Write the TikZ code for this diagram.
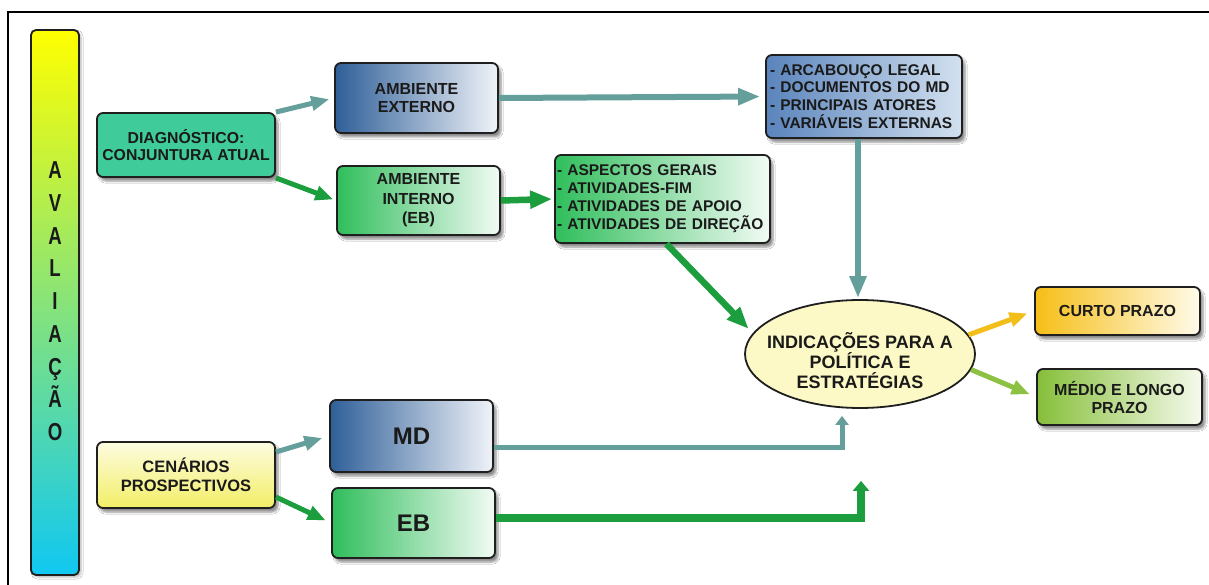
\documentclass[tikz,border=0pt]{standalone}
\usepackage{fontspec}
\setmainfont{Liberation Sans}
\newfontfamily\narrowfont[FakeStretch=0.76]{Liberation Sans}
\usetikzlibrary{arrows.meta,shadows.blur,calc,shapes.geometric}
\definecolor{txt}{HTML}{1A1A1A}
\definecolor{bluel}{HTML}{2F5F98}
\definecolor{bluer}{HTML}{F0F3F8}
\definecolor{greenl}{HTML}{30BE5C}
\definecolor{greenr}{HTML}{F2FBF4}
\definecolor{arcl}{HTML}{5A84BC}
\definecolor{arcr}{HTML}{D3E1F0}
\definecolor{diagc}{HTML}{3FCB9A}
\definecolor{curl}{HTML}{F6BE16}
\definecolor{curr}{HTML}{FFFBEA}
\definecolor{medl}{HTML}{86BF3A}
\definecolor{medr}{HTML}{F6FAEC}
\definecolor{cent}{HTML}{FDFCE0}
\definecolor{cenb}{HTML}{F2EE66}
\definecolor{ellc}{HTML}{FDF9C6}
\definecolor{tealc}{HTML}{659F9C}
\definecolor{grnc}{HTML}{1C9E3E}
\definecolor{yelc}{HTML}{F2BF1A}
\definecolor{lgrc}{HTML}{8DC143}
\definecolor{bartop}{HTML}{FFFF00}
\definecolor{barmid}{HTML}{74DE78}
\definecolor{barbot}{HTML}{10C8F2}
\begin{document}
\begin{tikzpicture}[x=1pt,y=-1pt,
  boxbase/.style={draw=black!88, line width=1.8pt, rounded corners=6pt, inner sep=2pt,
    align=center, text=txt, font=\bfseries\fontsize{16}{18}\selectfont,
    blur shadow={shadow xshift=3pt,shadow yshift=-4pt,shadow opacity=45,shadow blur steps=6}},
  bluebox/.style={boxbase, left color=bluel, right color=bluer},
  greenbox/.style={boxbase, left color=greenl, right color=greenr},
  listbox/.style={boxbase, align=left, font=\bfseries\fontsize{15.5}{18}\selectfont},
  avl/.style={anchor=base, text=txt, font=\narrowfont\bfseries\fontsize{24.5}{24}\selectfont, inner sep=0pt},
  tealarr/.style={draw=tealc, line width=6pt, -{Triangle[length=22pt,width=16pt]}},
  grnarr/.style={draw=grnc, line width=6.5pt, -{Triangle[length=22pt,width=17pt]}},
  shortarr/.style={line width=5pt, -{Triangle[length=18pt,width=14pt]}},
]
\useasboundingbox (0,0) rectangle (1209,585);
\fill[white] (0,0) rectangle (1209,585);
\draw[line width=1.5pt, black] (8,585) -- (8,12) -- (1209,12);

% evaluation bar
\node[draw=black!88, line width=1.8pt, rounded corners=5pt, minimum width=48pt, minimum height=545pt,
  top color=bartop, middle color=barmid, bottom color=barbot,
  blur shadow={shadow xshift=2pt,shadow yshift=-2pt,shadow opacity=30,shadow blur steps=5}]
  (bar) at (55,302.5) {};
\foreach \l [count=\i] in {A,V,A,L,I,A,Ç,Ã,O}
  \node[avl] (av\i) at (55,{178.5+32.75*(\i-1)}) {\l};

% boxes
\node[boxbase, fill=diagc, minimum width=178pt, minimum height=64pt, font=\bfseries\fontsize{15.8}{17.5}\selectfont] (diag) at (186,145)
  {DIAGNÓSTICO:\\CONJUNTURA ATUAL};
\node[bluebox, minimum width=163pt, minimum height=70pt] (ambext) at (416.5,98)
  {AMBIENTE\\EXTERNO};
\node[greenbox, minimum width=163pt, minimum height=69pt, font=\bfseries\fontsize{16}{19.5}\selectfont] (ambint) at (418.5,200.5)
  {AMBIENTE\\INTERNO\\(EB)};
\node[listbox, left color=greenl, right color=greenr, minimum width=215pt, minimum height=88pt, text width=211pt, inner xsep=1pt] (aspect) at (662.5,199)
  {- ASPECTOS GERAIS\\- ATIVIDADES-FIM\\- ATIVIDADES DE APOIO\\- ATIVIDADES DE DIREÇÃO};
\node[listbox, left color=arcl, right color=arcr, minimum width=196pt, minimum height=83pt, text width=188pt, font=\bfseries\fontsize{15.5}{17.7}\selectfont] (arcab) at (864,96.5)
  {- ARCABOUÇO LEGAL\\- DOCUMENTOS DO MD\\- PRINCIPAIS ATORES\\- VARIÁVEIS EXTERNAS};
\node[draw=black!88, line width=1.8pt, ellipse, fill=ellc, minimum width=230pt, minimum height=108pt, inner sep=0pt]
  (ell) at (860,354) {};
\node[align=center, text=txt, font=\bfseries\fontsize{18}{20}\selectfont, inner sep=0pt] (ellt) at (860,361)
  {INDICAÇÕES PARA A\\POLÍTICA E\\ESTRATÉGIAS};
\node[boxbase, left color=curl, right color=curr, minimum width=165pt, minimum height=48pt] (curto) at (1117.5,311)
  {CURTO PRAZO};
\node[boxbase, left color=medl, right color=medr, minimum width=165pt, minimum height=56pt] (medio) at (1119.5,397)
  {MÉDIO E LONGO\\PRAZO};
\node[boxbase, top color=cent, bottom color=cenb, minimum width=178pt, minimum height=66pt, font=\bfseries\fontsize{16.5}{19}\selectfont] (cen) at (186,475)
  {CENÁRIOS\\PROSPECTIVOS};
\node[bluebox, minimum width=163pt, minimum height=72pt, font=\bfseries\fontsize{24}{26}\selectfont] (md) at (411.5,436) {MD};
\node[greenbox, minimum width=163pt, minimum height=70pt, font=\bfseries\fontsize{24}{26}\selectfont] (eb) at (413.5,523) {EB};

% connectors
\draw[shortarr, draw=tealc, shorten >=5pt] (diag.north east) -- (ambext.west);
\draw[shortarr, draw=grnc, shorten >=3pt] (diag.south east) -- (ambint.west);
\draw[tealarr, shorten >=5pt] (ambext.east) -- (arcab.west);
\draw[grnarr, shorten >=2pt] (ambint.east) -- (aspect.west);
\draw[tealarr, shorten >=1pt] ([xshift=-6pt]arcab.south) -- ([xshift=-2pt]ell.north);
\draw[grnarr, shorten >=6pt] ([xshift=4pt]aspect.south) -- (ell.169);
\draw[shortarr, draw=tealc, shorten >=7pt] ([yshift=23pt]cen.east) -- (md.west);
\draw[shortarr, draw=grnc, shorten >=6pt] ([yshift=-22pt]cen.east) -- (eb.west);
\draw[shortarr, draw=yelc, shorten >=7pt] (ell.10) -- (curto.west);
\draw[shortarr, draw=lgrc, shorten >=7pt] (ell.-8) -- (medio.west);
\coordinate (mdin) at ($(ell.south)+(-18,7)$);
\coordinate (ebin) at ($(ell.south)+(1,72)$);
\draw[draw=tealc, line width=5pt, -{Triangle[length=9pt,width=13pt]}] ([yshift=-11pt]md.east) -| (mdin);
\draw[draw=grnc, line width=8pt, -{Triangle[length=10pt,width=16pt]}] ([yshift=5pt]eb.east) -| (ebin);
\end{tikzpicture}
\end{document}
